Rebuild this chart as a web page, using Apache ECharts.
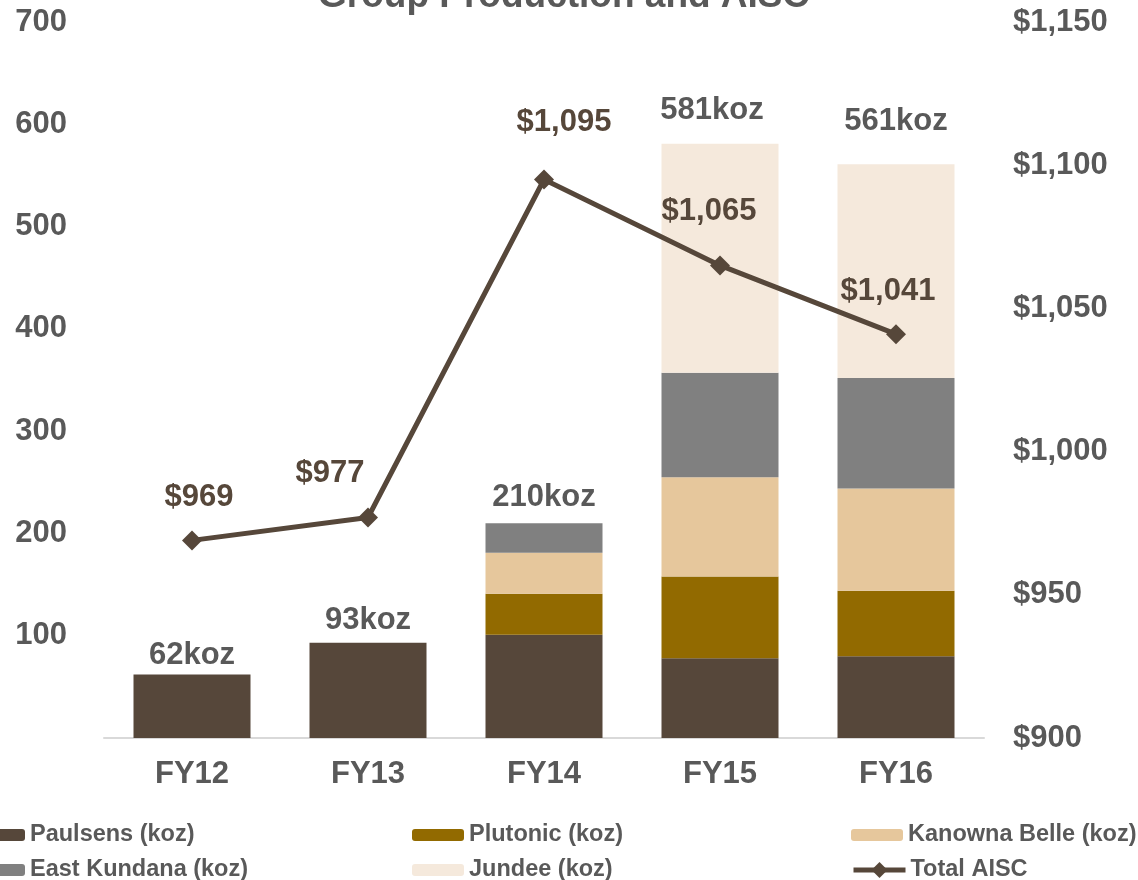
<!DOCTYPE html>
<html lang="en">
<head>
    <meta charset="UTF-8">
    <title>Group Production and AISC</title>
    <script src="https://cdn.jsdelivr.net/npm/echarts/dist/echarts.min.js"></script>
    <style>
        body { margin: 0; padding: 0; background: #fff; }
        #chart { width: 1138px; height: 880px; }
    </style>
</head>
<body>
<div id="chart"></div>
<script>
    var years = ['FY12', 'FY13', 'FY14', 'FY15', 'FY16'];
    var paulsens = [62, 93, 101, 78, 80];
    var plutonic = [0, 0, 40, 80, 64];
    var kanowna = [0, 0, 40, 97, 100];
    var eastKundana = [0, 0, 29, 102, 108];
    var jundee = [0, 0, 0, 224, 209];
    var totals = [62, 93, 210, 581, 561];
    var aisc = [969, 977, 1095, 1065, 1041];

    // label nudges (pixels), style only
    var aiscLabelShift = [[7, -43], [-38, -44], [20, -57], [-11, -54], [-8, -43]];
    var totalLabelShift = [[0, -4], [0, -7], [0, -10], [-8, -18], [0, -27]];

    var font = 'Liberation Sans, Arial, sans-serif';
    var grey = '#595959';
    var brown = '#56473a';

    var chart = echarts.init(document.getElementById('chart'));

    function stackBar(name, data, color) {
        return {
            name: name,
            type: 'bar',
            stack: 'prod',
            data: data,
            barWidth: 117,
            itemStyle: { color: color },
            emphasis: { disabled: true }
        };
    }

    // one legend per item so the 3x2 grid lines up like the original
    function legendItem(name, left, top, h) {
        return {
            data: [name],
            left: left,
            top: top,
            itemWidth: 52,
            itemHeight: h || 12,
            lineStyle: { width: 5 },
            textStyle: { color: grey, fontSize: 23.5, fontWeight: 'bold', fontFamily: font, lineHeight: 24 }
        };
    }

    var axisFont = { color: grey, fontSize: 31, fontWeight: 'bold', fontFamily: font };

    var option = {
        animation: false,
        title: {
            text: 'Group Production and AISC',
            left: 313,
            top: -27,
            textStyle: { color: grey, fontSize: 37, fontWeight: 'bold', fontFamily: font }
        },
        legend: [
            legendItem('Paulsens (koz)', -32, 818),
            legendItem('Plutonic (koz)', 407, 818),
            legendItem('Kanowna Belle (koz)', 846, 818),
            legendItem('East Kundana (koz)', -32, 853),
            legendItem('Jundee (koz)', 407, 853),
            legendItem('Total AISC', 846, 853, 20)
        ],
        grid: { left: 104, right: 154, top: 22, bottom: 142 },
        xAxis: {
            type: 'category',
            data: years,
            axisLine: { lineStyle: { color: '#d9d9d9', width: 2 } },
            axisTick: { show: false },
            axisLabel: Object.assign({ margin: 21 }, axisFont)
        },
        yAxis: [
            {
                type: 'value',
                min: 0,
                max: 700,
                interval: 100,
                axisLine: { show: false },
                axisTick: { show: false },
                splitLine: { show: false },
                axisLabel: Object.assign({
                    margin: 37,
                    formatter: function (v) { return v === 0 ? '' : v; }
                }, axisFont)
            },
            {
                type: 'value',
                min: 900,
                max: 1150,
                interval: 50,
                position: 'right',
                axisLine: { show: false },
                axisTick: { show: false },
                splitLine: { show: false },
                axisLabel: Object.assign({
                    margin: 29,
                    formatter: function (v) { return '$' + v.toLocaleString('en-US'); }
                }, axisFont)
            }
        ],
        series: [
            stackBar('Paulsens (koz)', paulsens, '#56473a'),
            stackBar('Plutonic (koz)', plutonic, '#926a00'),
            stackBar('Kanowna Belle (koz)', kanowna, '#e6c79c'),
            stackBar('East Kundana (koz)', eastKundana, '#808080'),
            stackBar('Jundee (koz)', jundee, '#f5e9dc'),
            {
                name: 'total',
                type: 'bar',
                barWidth: 117,
                barGap: '-100%',
                silent: true,
                itemStyle: { color: 'rgba(0,0,0,0)' },
                data: totals.map(function (v, i) {
                    return { value: v, label: { offset: totalLabelShift[i] } };
                }),
                label: Object.assign({
                    show: true,
                    position: 'top',
                    distance: 0,
                    formatter: '{c}koz'
                }, axisFont),
                z: 1
            },
            {
                name: 'Total AISC',
                type: 'line',
                yAxisIndex: 1,
                symbol: 'diamond',
                symbolSize: 20,
                lineStyle: { color: brown, width: 5 },
                itemStyle: { color: brown },
                data: aisc.map(function (v, i) {
                    return { value: v, label: { offset: aiscLabelShift[i] } };
                }),
                label: Object.assign({
                    show: true,
                    position: 'inside',
                    formatter: function (p) { return '$' + p.value.toLocaleString('en-US'); }
                }, axisFont, { color: brown }),
                z: 5
            }
        ]
    };

    chart.setOption(option);
</script>
</body>
</html>
